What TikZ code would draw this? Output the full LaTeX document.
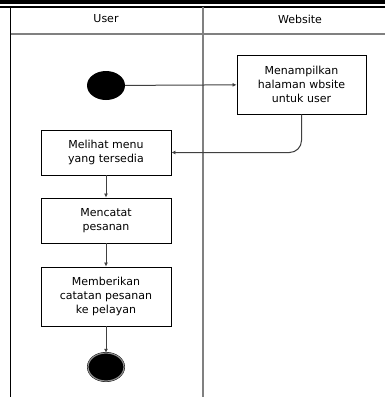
\documentclass[tikz,border=0pt]{standalone}
\usepackage{fontspec}
\setmainfont{DejaVu Sans}
\usetikzlibrary{shapes.geometric,arrows.meta}

\tikzset{
  actbox/.style={draw=black, line width=0.9pt, align=center, inner sep=0pt,
    font=\fontsize{11}{14}\selectfont},
  arr/.style={draw=black!75, line width=1pt, -{Latex[length=4pt,width=4pt]}},
  lane/.style={draw=black!50, line width=1.4pt}
}

\begin{document}
\begin{tikzpicture}[x=1pt,y=-1pt]
	\useasboundingbox (0,0) rectangle (385,397);

	% frame and lanes
	\fill[black] (0,0) rectangle (385,4);
	\draw[black, line width=2pt] (0,6.5) -- (385,6.5);
	\draw[black, line width=1.2pt] (10.5,6.5) -- (10.5,397);
	\draw[lane] (203,6.5) -- (203,397);
	\draw[lane] (10.5,34) -- (385,34);

	% lane titles
	\node (user) at (106,19) {\fontsize{11}{13}\selectfont User};
	\node (site) at (300,19) {\fontsize{11}{13}\selectfont Website};

	% start and end
	\node[ellipse, fill=black, minimum width=38pt, minimum height=29pt, inner sep=0pt] (start) at (106,85.5) {};
	\node[ellipse, fill=black, draw=black, double=black!45, double distance=1.2pt,
		minimum width=36pt, minimum height=28pt, inner sep=0pt] (finish) at (106,367) {};

	% activities
	\node[actbox, minimum width=129pt, minimum height=59pt] (web) at (301.5,84.5)
		{Menampilkan\\halaman wbsite\\untuk user};
	\node[actbox, minimum width=130pt, minimum height=45pt] (lihat) at (106,152.5)
		{Melihat menu\\yang tersedia};
	\node[actbox, minimum width=130pt, minimum height=45pt] (catat) at (106,220.5)
		{Mencatat\\pesanan};
	\node[actbox, minimum width=130pt, minimum height=59pt] (beri) at (106,296.5)
		{Memberikan\\catatan pesanan\\ke pelayan};

	% flows
	\draw[arr] (start) -- (web);
	\draw[arr, rounded corners=12pt] (web.south) |- (lihat.east);
	\draw[arr] (lihat) -- (catat);
	\draw[arr] (catat) -- (beri);
	\draw[arr] (beri) -- (finish);
\end{tikzpicture}
\end{document}
